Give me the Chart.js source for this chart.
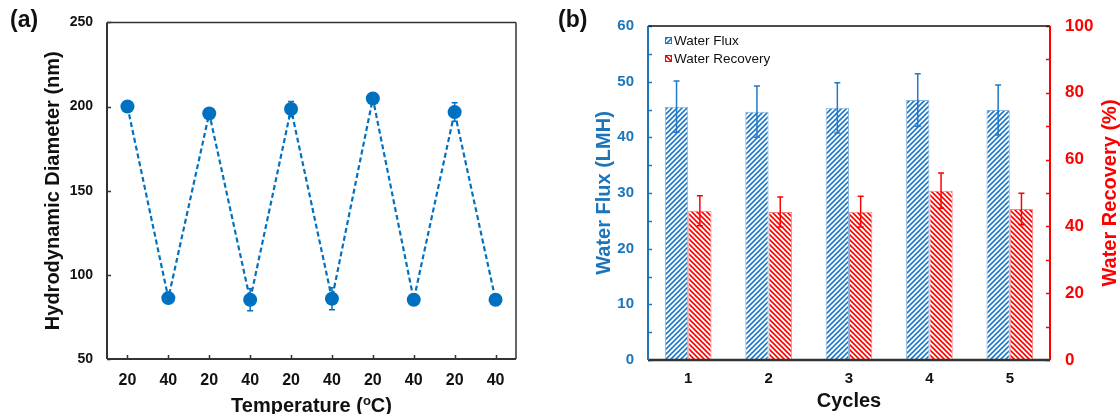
<!DOCTYPE html>
<html>
<head>
<meta charset="utf-8">
<title>Thermo-responsive cycling</title>
<script src="https://cdn.jsdelivr.net/npm/chart.js@4.4.0/dist/chart.umd.min.js"></script>
<style>
  html, body { margin: 0; padding: 0; background: #fff; }
  body { width: 1120px; height: 414px; position: relative; overflow: hidden; font-family: "Liberation Sans", Arial, sans-serif; }
  .panel { position: absolute; top: 0; width: 560px; height: 414px; }
  #pa { left: 0; }
  #pb { left: 560px; }
  .tag { position: absolute; top: 8px; font-weight: bold; font-size: 23px; line-height: 1; color: #111; }
</style>
</head>
<body>
<div class="panel" id="pa"><canvas id="chartA" width="560" height="414"></canvas></div>
<div class="panel" id="pb"><canvas id="chartB" width="560" height="414"></canvas></div>
<div class="tag" style="left:10px">(a)</div>
<div class="tag" style="left:558px">(b)</div>

<script>
// (a) hydrodynamic diameter while switching between 20 and 40 °C
const tempLabels = ['20', '40', '20', '40', '20', '40', '20', '40', '20', '40'];
const diameter = [200, 86.2, 195.9, 85.2, 198.5, 85.8, 204.8, 85.2, 196.7, 85.2];
const diameterErr = [1.5, 2, 2.5, 6.5, 4.5, 6.5, 2, 2, 5.5, 1.5];

// (b) water flux and water recovery over five cycles
const cycleLabels = ['1', '2', '3', '4', '5'];
const waterFlux = [45.5, 44.6, 45.3, 46.7, 44.9];
const waterFluxErr = [4.6, 4.6, 4.5, 4.7, 4.5];
const waterRecovery = [44.7, 44.3, 44.4, 50.7, 45.2];
const waterRecoveryErr = [4.5, 4.5, 4.6, 5.3, 4.7];

const FONT = '"Liberation Sans", Arial, sans-serif';
const BLUE = '#0070C0';
const AXIS_BLUE = '#1B75BB';
const RED = '#FF0000';

Chart.defaults.font.family = FONT;
Chart.defaults.animation = false;

// diagonal hatch fill, dir > 0 gives '/', otherwise '\'
function hatch(color, dir) {
    const s = 5;
    const c = document.createElement('canvas');
    c.width = s; c.height = s;
    const g = c.getContext('2d');
    g.fillStyle = '#fff';
    g.fillRect(0, 0, s, s);
    g.strokeStyle = color;
    g.lineWidth = 1.6;
    g.beginPath();
    if (dir > 0) {
        g.moveTo(-1, s + 1); g.lineTo(s + 1, -1);
        g.moveTo(-1, 1); g.lineTo(1, -1);
        g.moveTo(s - 1, s + 1); g.lineTo(s + 1, s - 1);
    } else {
        g.moveTo(-1, -1); g.lineTo(s + 1, s + 1);
        g.moveTo(s - 1, -1); g.lineTo(s + 1, 1);
        g.moveTo(-1, s - 1); g.lineTo(1, s + 1);
    }
    g.stroke();
    return g.createPattern(c, 'repeat');
}

// vertical error bars from dataset.errors
const errorBars = {
    id: 'errorBars',
    afterDatasetsDraw(chart) {
        const ctx = chart.ctx;
        chart.data.datasets.forEach((ds, i) => {
            if (!ds.errors) return;
            const meta = chart.getDatasetMeta(i);
            const sc = chart.scales[meta.yAxisID];
            ctx.save();
            ctx.strokeStyle = ds.errorColor;
            ctx.lineWidth = 1.5;
            meta.data.forEach((el, j) => {
                const v = ds.data[j], e = ds.errors[j];
                const y1 = sc.getPixelForValue(v + e);
                const y2 = sc.getPixelForValue(v - e);
                const w = ds.capWidth || 3;
                ctx.beginPath();
                ctx.moveTo(el.x, y1); ctx.lineTo(el.x, y2);
                ctx.moveTo(el.x - w, y1); ctx.lineTo(el.x + w, y1);
                ctx.moveTo(el.x - w, y2); ctx.lineTo(el.x + w, y2);
                ctx.stroke();
            });
            ctx.restore();
        });
    }
};

// short tick marks pointing into the plot
const innerTicks = {
    id: 'innerTicks',
    afterDraw(chart, args, opts) {
        const ctx = chart.ctx, a = chart.chartArea;
        (opts.axes || []).forEach(ax => {
            const sc = chart.scales[ax.id];
            ctx.save();
            ctx.strokeStyle = ax.color;
            ctx.lineWidth = ax.width || 1;
            sc.ticks.forEach((t, k) => {
                const p = Math.round(sc.getPixelForTick(k)) + 0.5;
                ctx.beginPath();
                if (sc.isHorizontal()) {
                    ctx.moveTo(p, a.bottom); ctx.lineTo(p, a.bottom - ax.len);
                } else if (sc.position === 'left') {
                    ctx.moveTo(a.left, p); ctx.lineTo(a.left + ax.len, p);
                } else {
                    ctx.moveTo(a.right, p); ctx.lineTo(a.right - ax.len, p);
                }
                ctx.stroke();
            });
            ctx.restore();
        });
    }
};

// box round the plot, each side styled separately
const frame = {
    id: 'frame',
    afterDraw(chart, args, opts) {
        const ctx = chart.ctx, a = chart.chartArea;
        const side = (s, x1, y1, x2, y2) => {
            if (!s) return;
            ctx.save();
            ctx.strokeStyle = s.color;
            ctx.lineWidth = s.width;
            ctx.beginPath();
            ctx.moveTo(x1, y1); ctx.lineTo(x2, y2);
            ctx.stroke();
            ctx.restore();
        };
        side(opts.top, a.left, a.top, a.right, a.top);
        side(opts.bottom, a.left, a.bottom, a.right, a.bottom);
        side(opts.left, a.left, a.top, a.left, a.bottom);
        side(opts.right, a.right, a.top, a.right, a.bottom);
    }
};

// titles chart.js can't lay out itself (superscript, right axis read upwards)
const extraTitles = {
    id: 'extraTitles',
    afterDraw(chart, args, opts) {
        const ctx = chart.ctx, a = chart.chartArea;
        (opts.items || []).forEach(it => {
            ctx.save();
            const cx = it.x != null ? it.x : (a.left + a.right) / 2;
            const cy = it.y != null ? it.y : (a.top + a.bottom) / 2;
            ctx.translate(cx, cy);
            if (it.rotate) ctx.rotate(it.rotate);
            ctx.fillStyle = it.color;
            ctx.textBaseline = 'alphabetic';
            let total = 0;
            it.parts.forEach(p => {
                ctx.font = 'bold ' + p.size + 'px ' + FONT;
                p.w = ctx.measureText(p.text).width;
                total += p.w;
            });
            let x = -total / 2;
            it.parts.forEach(p => {
                ctx.font = 'bold ' + p.size + 'px ' + FONT;
                ctx.fillText(p.text, x, it.baseline - (p.rise || 0));
                x += p.w;
            });
            ctx.restore();
        });
    }
};

// legend tucked in the top-left of the plot
const boxLegend = {
    id: 'boxLegend',
    afterDraw(chart, args, opts) {
        const ctx = chart.ctx, a = chart.chartArea;
        chart.data.datasets.forEach((ds, i) => {
            const x = a.left + opts.x, y = a.top + opts.y + i * opts.gap;
            ctx.save();
            ctx.fillStyle = ds.backgroundColor;
            ctx.fillRect(x, y, 7, 7);
            ctx.strokeStyle = ds.legendEdge;
            ctx.lineWidth = 1;
            ctx.strokeRect(x + 0.5, y + 0.5, 6, 6);
            ctx.fillStyle = '#111';
            ctx.font = '13.5px ' + FONT;
            ctx.textBaseline = 'middle';
            ctx.fillText(ds.label, x + 9, y + 4);
            ctx.restore();
        });
    }
};

// ---------- (a) ----------
new Chart(document.getElementById('chartA'), {
    type: 'line',
    data: {
        labels: tempLabels,
        datasets: [{
            label: 'Hydrodynamic Diameter',
            data: diameter,
            errors: diameterErr,
            errorColor: BLUE,
            capWidth: 3,
            borderColor: BLUE,
            borderWidth: 2.2,
            borderDash: [5, 3],
            pointRadius: 7,
            pointBackgroundColor: BLUE,
            pointBorderColor: BLUE,
            pointBorderWidth: 0,
            tension: 0,
            fill: false
        }]
    },
    options: {
        responsive: false,
        layout: { padding: { top: 22, right: 44, left: 0, bottom: 0 } },
        plugins: {
            legend: { display: false },
            tooltip: { enabled: false },
            innerTicks: { axes: [
                { id: 'x', len: 4, color: '#333', width: 1.5 },
                { id: 'y', len: 4, color: '#333', width: 1.5 }
            ] },
            frame: {
                top: { color: '#333', width: 1.5 },
                bottom: { color: '#333', width: 2 },
                left: { color: '#333', width: 2 },
                right: { color: '#333', width: 1.5 }
            },
            extraTitles: { items: [{
                y: 404, baseline: 7.5, color: '#111',
                parts: [
                    { text: 'Temperature (', size: 20 },
                    { text: 'o', size: 13, rise: 7 },
                    { text: 'C)', size: 20 }
                ]
            }] }
        },
        scales: {
            x: {
                offset: true,
                grid: { display: false, drawTicks: false },
                border: { display: false },
                ticks: { color: '#111', font: { size: 16, weight: 'bold' }, padding: 12, maxRotation: 0 },
                afterFit: s => { s.height = 55; }
            },
            y: {
                min: 50, max: 250,
                grid: { display: false, drawTicks: false },
                border: { display: false },
                ticks: { stepSize: 50, color: '#111', font: { size: 14, weight: 'bold' }, padding: 14 },
                title: {
                    display: true, text: 'Hydrodynamic Diameter (nm)', color: '#111',
                    font: { size: 20, weight: 'bold' }, padding: { top: 41, bottom: 0 }
                },
                afterFit: s => { s.width = 107; }
            }
        }
    },
    plugins: [errorBars, innerTicks, frame, extraTitles]
});

// ---------- (b) ----------
new Chart(document.getElementById('chartB'), {
    type: 'bar',
    data: {
        labels: cycleLabels,
        datasets: [{
            label: 'Water Flux',
            data: waterFlux,
            errors: waterFluxErr,
            errorColor: '#1F78C8',
            capWidth: 3,
            yAxisID: 'y',
            backgroundColor: hatch('#1F78C8', 1),
            borderColor: '#8AB8E2',
            legendEdge: '#1F78C8',
            borderWidth: 1
        }, {
            label: 'Water Recovery',
            data: waterRecovery,
            errors: waterRecoveryErr,
            errorColor: RED,
            capWidth: 3,
            yAxisID: 'y1',
            backgroundColor: hatch(RED, -1),
            borderColor: '#FF8080',
            legendEdge: RED,
            borderWidth: 1
        }]
    },
    options: {
        responsive: false,
        categoryPercentage: 0.58,
        barPercentage: 1.0,
        layout: { padding: { top: 26, right: 0, left: 0, bottom: 0 } },
        plugins: {
            legend: { display: false },
            tooltip: { enabled: false },
            boxLegend: { x: 17, y: 11, gap: 18 },
            innerTicks: { axes: [
                { id: 'y', len: 4, color: AXIS_BLUE, width: 1.5 },
                { id: 'y1', len: 4, color: RED, width: 1.5 }
            ] },
            frame: {
                top: { color: '#111', width: 1.5 },
                bottom: { color: '#333', width: 2.5 },
                left: { color: AXIS_BLUE, width: 2 },
                right: { color: RED, width: 2 }
            },
            extraTitles: { items: [{
                x: 549, rotate: -Math.PI / 2, baseline: 7, color: RED,
                parts: [{ text: 'Water Recovery (%)', size: 20 }]
            }] }
        },
        scales: {
            x: {
                grid: { display: false, drawTicks: false },
                border: { display: false },
                ticks: { color: '#111', font: { size: 15, weight: 'bold' }, padding: 10 },
                title: {
                    display: true, text: 'Cycles', color: '#111',
                    font: { size: 20, weight: 'bold' }, padding: { top: 0, bottom: 1 }
                },
                afterFit: s => { s.height = 54; }
            },
            y: {
                position: 'left',
                min: 0, max: 60,
                grid: { display: false, drawTicks: false },
                border: { display: false },
                ticks: {
                    stepSize: 5, color: AXIS_BLUE, font: { size: 15, weight: 'bold' }, padding: 14,
                    callback: v => (v % 10 === 0 ? v : '')
                },
                title: {
                    display: true, text: 'Water Flux (LMH)', color: AXIS_BLUE,
                    font: { size: 20, weight: 'bold' }, padding: { top: 32, bottom: 0 }
                },
                afterFit: s => { s.width = 88; }
            },
            y1: {
                position: 'right',
                min: 0, max: 100,
                grid: { display: false, drawTicks: false },
                border: { display: false },
                ticks: {
                    stepSize: 10, color: RED, font: { size: 17, weight: 'bold' }, padding: 15,
                    callback: v => (v % 20 === 0 ? v : '')
                },
                afterFit: s => { s.width = 70; }
            }
        }
    },
    plugins: [errorBars, innerTicks, frame, extraTitles, boxLegend]
});
</script>
</body>
</html>
